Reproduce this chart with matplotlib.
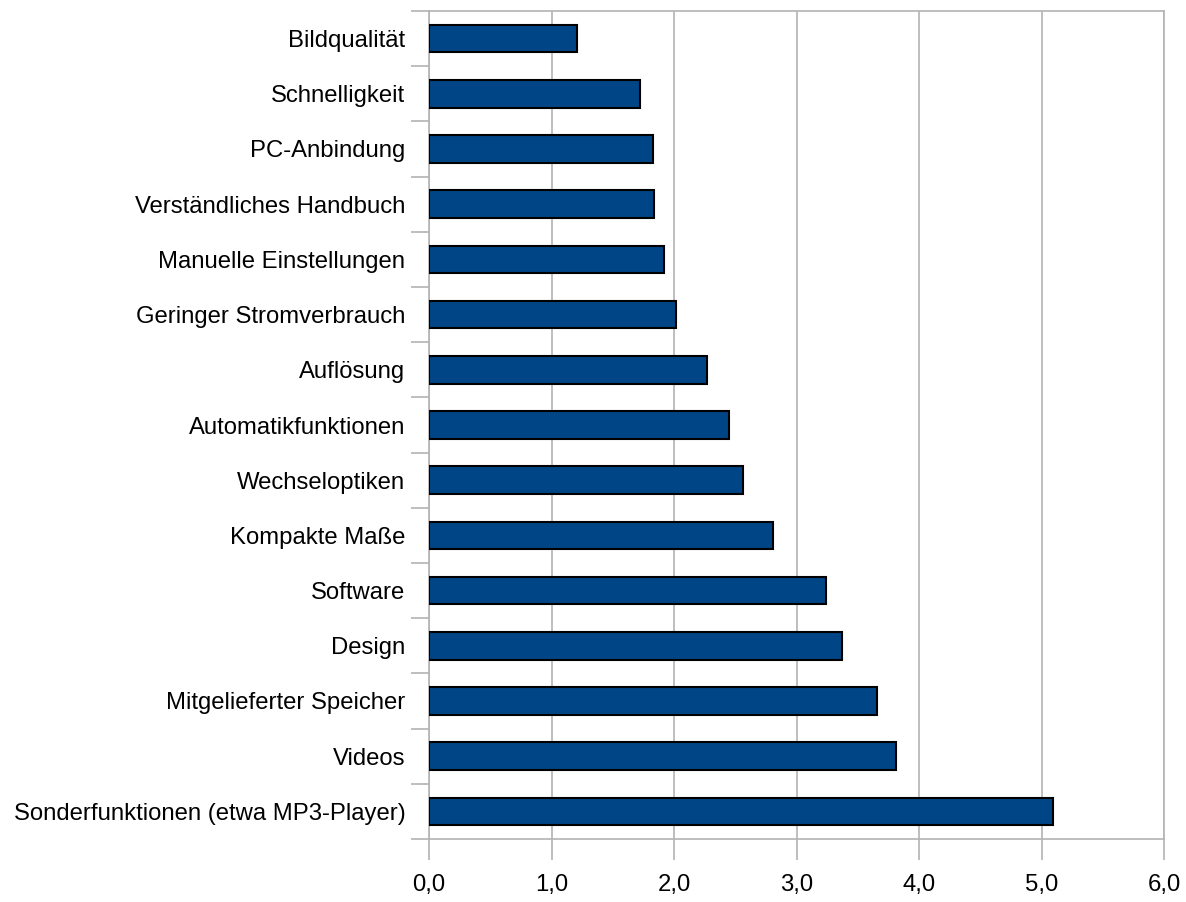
#!/usr/bin/env python3
"""horizontal bar chart - camera features"""
import matplotlib
matplotlib.use("Agg")
import matplotlib.pyplot as plt
from matplotlib.ticker import FuncFormatter, FixedLocator

features = ["Bildqualität", "Schnelligkeit", "PC-Anbindung",
            "Verständliches Handbuch", "Manuelle Einstellungen",
            "Geringer Stromverbrauch", "Auflösung", "Automatikfunktionen",
            "Wechseloptiken", "Kompakte Maße", "Software", "Design",
            "Mitgelieferter Speicher", "Videos",
            "Sonderfunktionen (etwa MP3-Player)"]
values = [1.21, 1.72, 1.83, 1.84, 1.92, 2.02, 2.27, 2.45, 2.56, 2.81,
          3.24, 3.37, 3.66, 3.81, 5.09]
x_ticks = [0, 1, 2, 3, 4, 5, 6]

plt.rcParams["font.family"] = ["Liberation Sans", "DejaVu Sans"]

fig = plt.figure(figsize=(11.86, 9.02), dpi=100)
ax = fig.add_axes([429 / 1186, 63 / 902, 735 / 1186, 828 / 902])

pos = list(range(len(features)))
ax.barh(pos, values, height=0.5, color="#004586", edgecolor="black",
        linewidth=1.5, zorder=3)

ax.set_ylim(len(features) - 0.5, -0.5)
ax.set_xlim(0, 6)

ax.xaxis.set_major_locator(FixedLocator(x_ticks))
ax.xaxis.set_major_formatter(FuncFormatter(lambda v, p: f"{v:.1f}".replace(".", ",")))
ax.grid(axis="x", color="#b3b3b3", linewidth=1.2, zorder=0)

ax.set_yticks(pos)
ax.set_yticklabels(features)
ax.yaxis.set_minor_locator(FixedLocator([i - 0.5 for i in range(len(features) + 1)]))
ax.tick_params(axis="y", which="major", length=0, pad=17, labelsize=17.2)
ax.tick_params(axis="y", which="minor", length=13, color="#b3b3b3", width=1.2)
ax.tick_params(axis="x", length=15, color="#b3b3b3", width=1.2, labelsize=17.2, pad=10)

for s in ax.spines.values():
    s.set_color("#b3b3b3")
    s.set_linewidth(1.2)

fig.savefig("out.png", dpi=100)
